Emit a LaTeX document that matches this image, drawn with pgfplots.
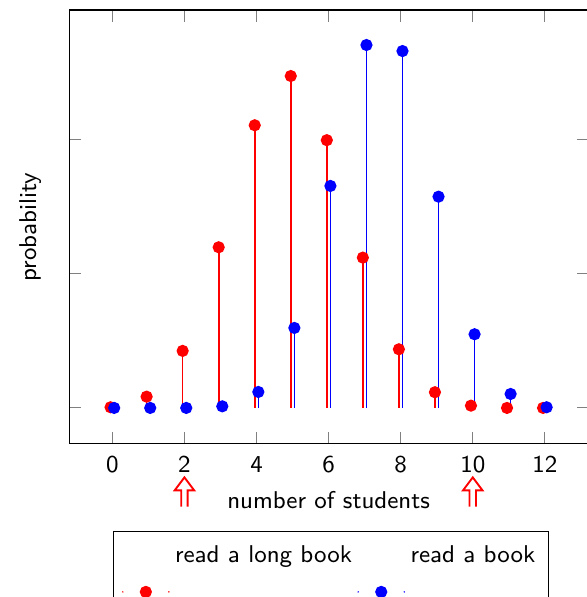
\documentclass[border=0pt]{standalone}
\usepackage{pgfplots}
\pgfplotsset{compat=1.18}
\renewcommand{\familydefault}{\sfdefault}
\begin{document}
\begin{tikzpicture}[font=\small]
\begin{axis}[
  name=ax,
  scale only axis,
  width=192.2pt, height=160.7pt,
  xmin=-1.2, xmax=13.2,
  ymin=-0.0268, ymax=0.2965,
  xtick={0,2,...,12},
  ytick={0,0.1,0.2},
  yticklabels={},
  tick style={gray, thin},
  /pgf/number format/assume math mode=true,
  xticklabel style={yshift=-1pt},
  xlabel={number of students},
  ylabel={probability},
  clip=false,
  legend columns=2,
  legend style={at={(0.5,-0.2)}, anchor=north, xshift=1pt, inner ysep=3.5pt, draw=black},
  legend image code/.code={
    \draw[mark repeat=2,mark phase=2,#1,yshift=-13.1pt,line cap=round]
      plot coordinates {(0cm,0cm) (0.3cm,0cm) (0.6cm,0cm)};
  },
]
\addplot+[ycomb, red, semithick, mark=*, mark size=1.95pt, mark options={fill=red, draw=red}]
  coordinates {
  (-0.05,0.0005) (0.95,0.0084) (1.95,0.0425) (2.95,0.1197) (3.95,0.2106)
  (4.95,0.2473) (5.95,0.1995) (6.95,0.1120) (7.95,0.0437) (8.95,0.0117)
  (9.95,0.0017) (10.95,0.0000) (11.95,0.0000)
  };
\addlegendentry{read a long book}
\addplot+[ycomb, blue, semithick, mark=*, mark size=1.95pt, mark options={fill=blue, draw=blue}]
  coordinates {
  (0.05,0.0000) (1.05,0.0000) (2.05,0.0000) (3.05,0.0012) (4.05,0.0119)
  (5.05,0.0596) (6.05,0.1654) (7.05,0.2704) (8.05,0.2659) (9.05,0.1574)
  (10.05,0.0549) (11.05,0.0104) (12.05,0.0005)
  };
\addlegendentry{read a book}
\draw[red, line width=0.7pt, line join=miter]
  ([xshift=-1.2pt,yshift=-23.2pt]axis cs:2,-0.0268)
  -- ([xshift=-1.2pt,yshift=-17.2pt]axis cs:2,-0.0268)
  -- ([xshift=-3.6pt,yshift=-17.2pt]axis cs:2,-0.0268)
  -- ([yshift=-12.4pt]axis cs:2,-0.0268)
  -- ([xshift=3.6pt,yshift=-17.2pt]axis cs:2,-0.0268)
  -- ([xshift=1.2pt,yshift=-17.2pt]axis cs:2,-0.0268)
  -- ([xshift=1.2pt,yshift=-23.2pt]axis cs:2,-0.0268);
\draw[red, line width=0.7pt, line join=miter]
  ([xshift=-1.2pt,yshift=-23.2pt]axis cs:10,-0.0268)
  -- ([xshift=-1.2pt,yshift=-17.2pt]axis cs:10,-0.0268)
  -- ([xshift=-3.6pt,yshift=-17.2pt]axis cs:10,-0.0268)
  -- ([yshift=-12.4pt]axis cs:10,-0.0268)
  -- ([xshift=3.6pt,yshift=-17.2pt]axis cs:10,-0.0268)
  -- ([xshift=1.2pt,yshift=-17.2pt]axis cs:10,-0.0268)
  -- ([xshift=1.2pt,yshift=-23.2pt]axis cs:10,-0.0268);
\end{axis}
\pgfresetboundingbox
\path[use as bounding box] ([xshift=-25.6pt,yshift=-56.7pt]ax.south west) rectangle ([xshift=-0.6pt,yshift=3.7pt]ax.north east);
\end{tikzpicture}
\end{document}
